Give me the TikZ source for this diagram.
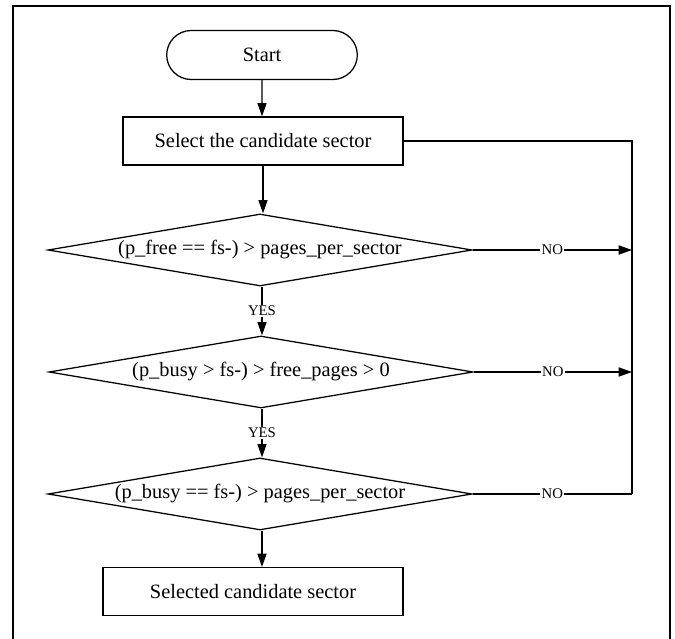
\documentclass[tikz,border=0pt]{standalone}
\usepackage{fontspec}
\setmainfont{Liberation Serif}
\usetikzlibrary{arrows.meta,positioning,shapes.geometric,shapes.misc}

\begin{document}
\begin{tikzpicture}[
  line width=0.9pt,
  flow/.style={-{Triangle[length=9.5pt,width=6.5pt]}},
  term/.style={draw,rounded rectangle,minimum width=5cm,minimum height=1.225cm,font=\fontsize{14.5}{17}\selectfont},
  proc/.style={draw,rectangle,minimum height=1.2cm,font=\fontsize{14.5}{17}\selectfont},
  test/.style={draw,diamond,aspect=5.9,inner sep=0pt,minimum width=10.6cm,minimum height=1.8cm,font=\fontsize{14.5}{17}\selectfont},
  tag/.style={fill=white,inner sep=1pt,font=\fontsize{10.5}{12}\selectfont}
]
  \useasboundingbox (0,0) rectangle (16.875,-15.975);

  % open frame round the chart
  \draw[line width=2.1pt] (0.325,-15.975) -- (0.325,-0.15) -- (16.75,-0.15) -- (16.75,-15.975);

  % main column
  \node[term] (start) at (6.55,-1.375) {Start};
  \node[proc,minimum width=7cm] (select) at (6.575,-3.525) {Select the candidate sector};
  \node[test] (free) at (6.5,-6.25) {(p\_free == fs-) > pages\_per\_sector};
  \node[test] (busy) at (6.525,-9.3) {(p\_busy > fs-) > free\_pages > 0};
  \node[test] (full) at (6.5,-12.35) {(p\_busy == fs-) > pages\_per\_sector};
  \node[proc,minimum width=7.5cm] (chosen) at (6.325,-14.79) {Selected candidate sector};

  \draw[flow] (start) -- (start |- select.north);
  \draw[flow] (select) -- (select |- free.north);
  \draw[flow] (free.south -| start) -- node[tag] {YES} (start |- busy.north);
  \draw[flow] (busy.south -| start) -- node[tag] {YES} (start |- full.north);
  \draw[flow] (full.south -| start) -- (start |- chosen.north);

  % back line on the right
  \coordinate (loop) at (15.8,-12.35);
  \coordinate (noFree) at (15.8,-6.25);
  \coordinate (noBusy) at (15.8,-9.3);
  \draw (select.east) -| (loop);
  \draw[flow] (free.east) -- node[tag] {NO} (noFree);
  \draw[flow] (busy.east) -- node[tag] {NO} (noBusy);
  \draw (full.east) -- node[tag] {NO} (loop);
\end{tikzpicture}
\end{document}
